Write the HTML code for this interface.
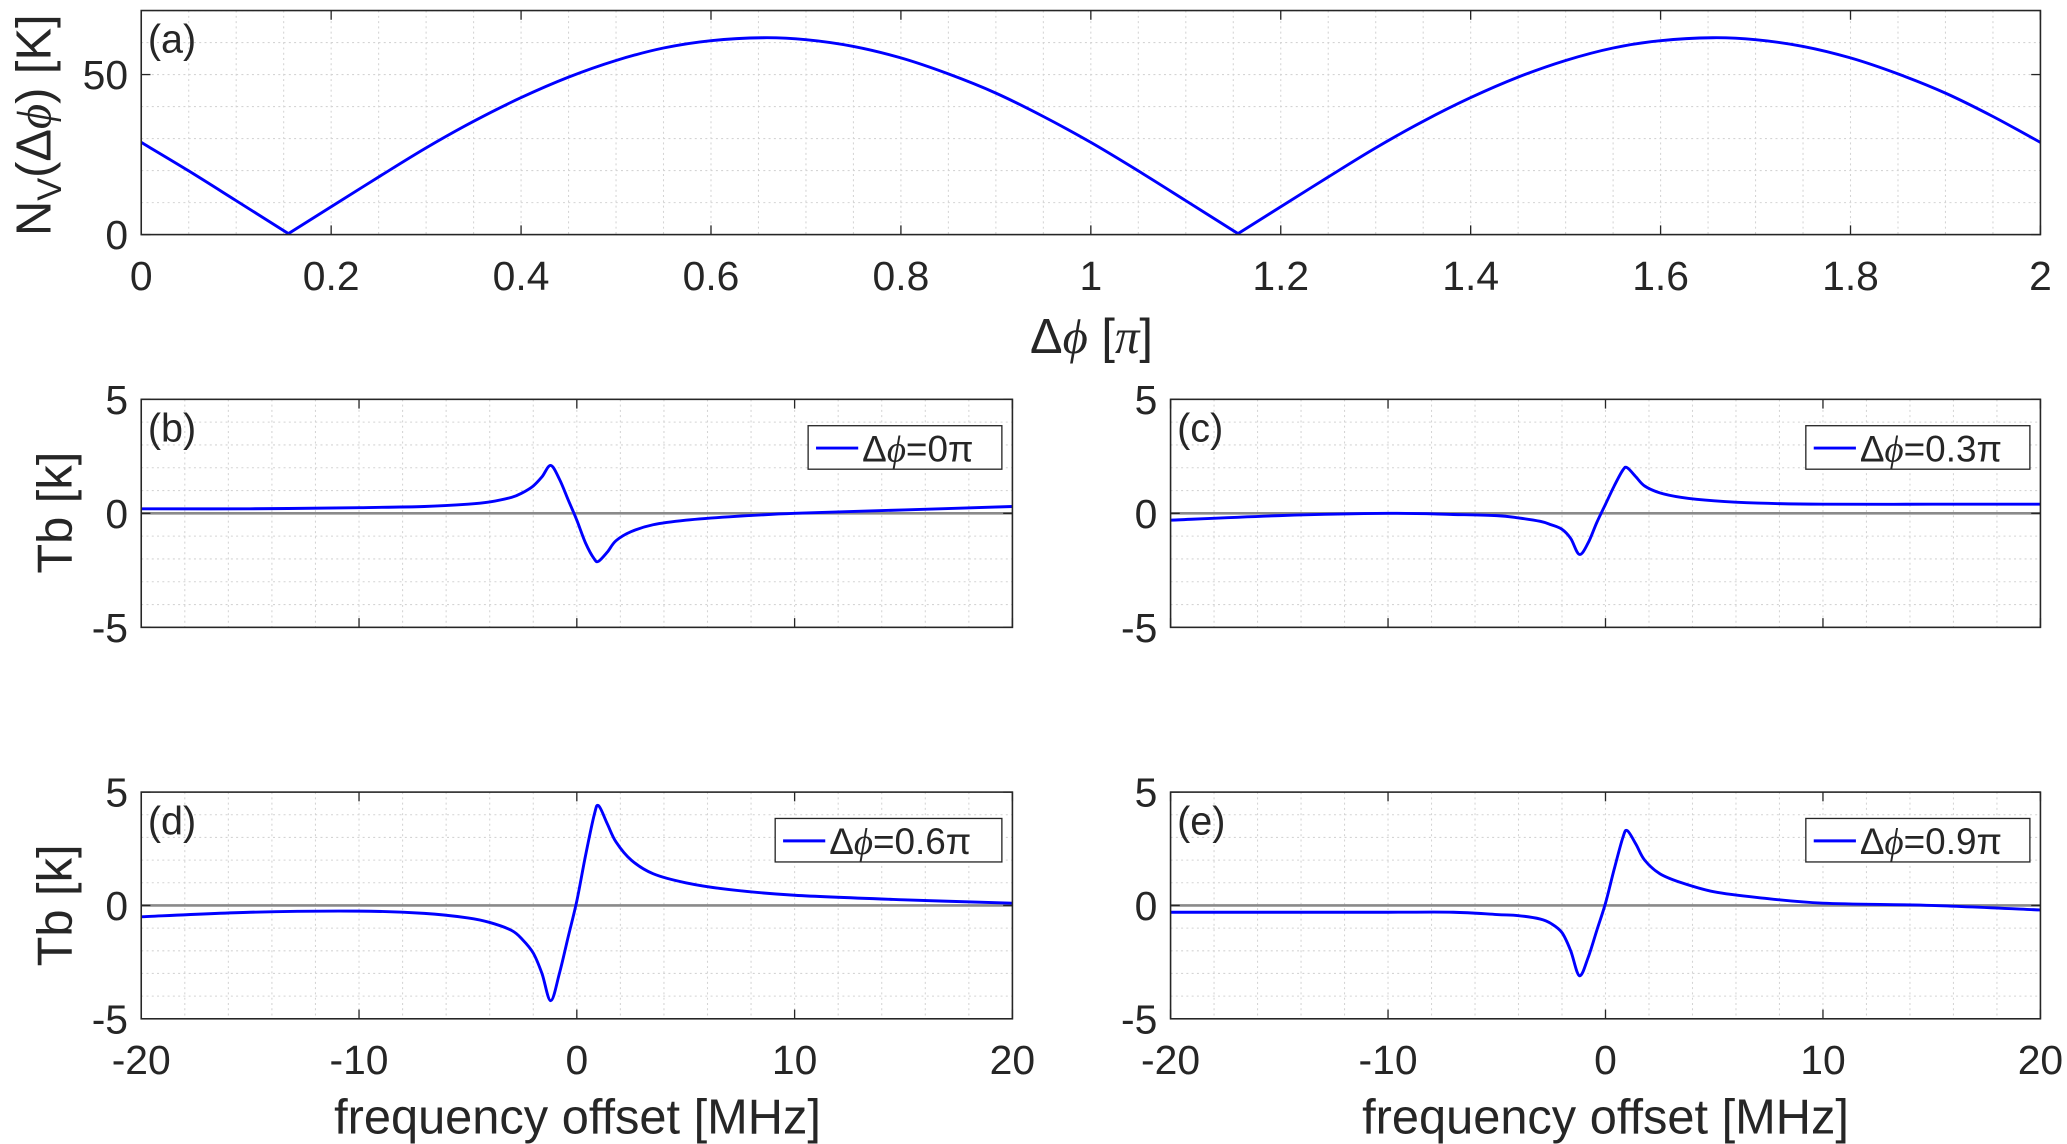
<!DOCTYPE html>
<html><head><meta charset="utf-8"><style>
html,body{margin:0;padding:0;background:#fff}
svg{display:block}
text{font-family:"Liberation Sans",sans-serif;fill:#262626}
</style></head><body>
<svg id="fig" width="2067" height="1144" viewBox="0 0 1568 868" xmlns="http://www.w3.org/2000/svg"></svg>
<script>
// Panel (a) data
const phiX = [0,0.05,0.1,0.155,0.2,0.25,0.3,0.35,0.4,0.45,0.5,0.55,0.6,0.655,0.7,0.75,0.8,0.85,0.9,0.95,1.0,1.05,1.1,1.155,1.2,1.25,1.3,1.35,1.4,1.45,1.5,1.55,1.6,1.655,1.7,1.75,1.8,1.85,1.9,1.95,2.0];
const nvY  = [28.8,19.9,10.6,0.3,8.7,18.0,27.1,35.4,42.8,49.2,54.4,58.3,60.6,61.5,60.9,58.8,55.2,50.2,44.2,36.9,28.8,19.9,10.6,0.3,8.7,18.0,27.1,35.4,42.8,49.2,54.4,58.3,60.6,61.5,60.9,58.8,55.2,50.2,44.2,36.9,28.8];
const phiTicks = ["0","0.2","0.4","0.6","0.8","1","1.2","1.4","1.6","1.8","2"];
// Panels (b)-(e) data
const freqX = [-20,-15,-10,-7,-5,-4,-3,-2.5,-2,-1.6,-1.2,-0.8,-0.4,0,0.4,0.8,1.0,1.4,1.8,2.5,3.5,5,7,10,15,20];
const tbB = [0.2,0.2,0.25,0.3,0.4,0.5,0.7,0.9,1.2,1.6,2.1,1.5,0.6,-0.3,-1.3,-2.0,-2.1,-1.7,-1.2,-0.8,-0.5,-0.3,-0.15,0,0.15,0.3];
const tbC = [-0.3,-0.1,0,-0.05,-0.1,-0.2,-0.35,-0.5,-0.7,-1.1,-1.8,-1.3,-0.4,0.4,1.2,1.9,2.0,1.6,1.2,0.9,0.7,0.55,0.45,0.4,0.4,0.4];
const tbD = [-0.5,-0.3,-0.25,-0.35,-0.55,-0.75,-1.1,-1.5,-2.1,-3.0,-4.2,-3.0,-1.4,0.2,2.2,4.0,4.4,3.6,2.8,2.0,1.4,1.0,0.7,0.45,0.25,0.1];
const tbE = [-0.3,-0.3,-0.3,-0.3,-0.4,-0.45,-0.6,-0.8,-1.2,-2.0,-3.1,-2.3,-1.1,0.1,1.6,3.0,3.3,2.7,2.0,1.4,1.0,0.6,0.35,0.1,0,-0.2];
const freqTicks = ["-20","-10","0","10","20"];
const tbTicks = ["-5","0","5"];

const NS="http://www.w3.org/2000/svg";
const svg=document.getElementById('fig');
function el(tag,attrs,parent){const e=document.createElementNS(NS,tag);for(const k in attrs)e.setAttribute(k,attrs[k]);(parent||svg).appendChild(e);return e;}
function smooth(pts){let d=`M${pts[0][0]},${pts[0][1]}`;for(let i=0;i<pts.length-1;i++){const p0=pts[Math.max(i-1,0)],p1=pts[i],p2=pts[i+1],p3=pts[Math.min(i+2,pts.length-1)];const c1=[p1[0]+(p2[0]-p0[0])/6,p1[1]+(p2[1]-p0[1])/6],c2=[p2[0]-(p3[0]-p1[0])/6,p2[1]-(p3[1]-p1[1])/6];d+=` C${c1[0]},${c1[1]} ${c2[0]},${c2[1]} ${p2[0]},${p2[1]}`;}return d;}
function smoothSplit(pts,ys){// split at V-shaped minima
  let d='',seg=[pts[0]];
  for(let i=1;i<pts.length;i++){seg.push(pts[i]);
    if(i<pts.length-1&&ys[i]<ys[i-1]&&ys[i]<ys[i+1]&&ys[i]<2){d+=smooth(seg);seg=[pts[i]];}}
  if(seg.length>1)d+=smooth(seg);return d;}

const TF=31;
function axes(o){
  const g=el('g',{});
  
  
  const sx=v=>o.x0+(v-o.xmin)/(o.xmax-o.xmin)*(o.x1-o.x0);
  const sy=v=>o.y1-(v-o.ymin)/(o.ymax-o.ymin)*(o.y1-o.y0);
  for(let v=o.xmin;v<=o.xmax+1e-9;v+=o.xminor){el('line',{x1:sx(v),x2:sx(v),y1:o.y0,y2:o.y1,stroke:'#d4d4d4','stroke-width':0.8,'stroke-dasharray':'1.5 2.5'},g);}
  for(let v=o.ymin;v<=o.ymax+1e-9;v+=o.yminor){el('line',{x1:o.x0,x2:o.x1,y1:sy(v),y2:sy(v),stroke:'#d4d4d4','stroke-width':0.8,'stroke-dasharray':'1.5 2.5'},g);}
  if(o.zero){const z=el('line',{x1:o.x0,x2:o.x1,y1:sy(0),y2:sy(0),stroke:'#8a8a8a','stroke-width':2},g);}
  o.xticks.forEach(t=>{const v=parseFloat(t),x=sx(v);el('line',{x1:x,x2:x,y1:o.y1,y2:o.y1-7,stroke:'#262626','stroke-width':1},g);el('line',{x1:x,x2:x,y1:o.y0,y2:o.y0+7,stroke:'#262626','stroke-width':1},g);
    if(o.xlabels){const t2=el('text',{x:x,y:o.y1+42,'font-size':TF,'text-anchor':'middle'},g);t2.textContent=t;}});
  o.yticks.forEach(t=>{const v=parseFloat(t),y=sy(v);el('line',{x1:o.x0,x2:o.x0+7,y1:y,y2:y,stroke:'#262626','stroke-width':1},g);el('line',{x1:o.x1,x2:o.x1-7,y1:y,y2:y,stroke:'#262626','stroke-width':1},g);
    const t2=el('text',{x:o.x0-10,y:y+11,'font-size':TF,'text-anchor':'end'},g);t2.textContent=t;});
  const pts=o.xs.map((x,i)=>[sx(x),sy(o.ys[i])]);
  const p=el('path',{d:o.split?smoothSplit(pts,o.ys):smooth(pts),fill:'none',stroke:'#0000ff','stroke-width':2.2,'stroke-linejoin':'round'},g);
  
  el('rect',{x:o.x0,y:o.y0,width:o.x1-o.x0,height:o.y1-o.y0,fill:'none',stroke:'#262626','stroke-width':1.2},g);
  const pl=el('text',{x:o.x0+5,y:o.y0+32,'font-size':30},g);pl.textContent=o.label;
  if(o.legend){const lg=el('g',{},g);
    const lw=o.legendW;const lx=o.x1-8-lw, ly=o.y0+20;
    el('rect',{x:lx,y:ly,width:lw,height:33,fill:'#fff',stroke:'#262626','stroke-width':1},lg);
    el('line',{x1:lx+6,x2:lx+38,y1:ly+17,y2:ly+17,stroke:'#0000ff','stroke-width':2.2},lg);
    const lt=el('text',{x:lx+41,y:ly+27,'font-size':28},lg);lt.innerHTML='Δ<tspan font-family="Liberation Serif" font-style="italic">ϕ</tspan>='+o.legend+'π';
    }
  return g;
}

axes({name:'panel-a',x0:107,x1:1548,y0:8,y1:178,xmin:0,xmax:2,ymin:0,ymax:70,xminor:0.05,yminor:10,xticks:phiTicks,yticks:["0","50"],xlabels:true,xs:phiX,ys:nvY,split:true,label:'(a)'});
const L={x0:107,x1:768},R={x0:888,x1:1548};
const top1={y0:303,y1:476}, top2={y0:601,y1:773};
const common={xmin:-20,xmax:20,ymin:-5,ymax:5,xminor:2,yminor:1,xticks:freqTicks,yticks:tbTicks,xs:freqX,zero:true};
axes(Object.assign({},common,L,top1,{name:'panel-b',ys:tbB,label:'(b)',legend:'0',legendW:147,xlabels:false}));
axes(Object.assign({},common,R,top1,{name:'panel-c',ys:tbC,label:'(c)',legend:'0.3',legendW:170,xlabels:false}));
axes(Object.assign({},common,L,top2,{name:'panel-d',ys:tbD,label:'(d)',legend:'0.6',legendW:172,xlabels:true}));
axes(Object.assign({},common,R,top2,{name:'panel-e',ys:tbE,label:'(e)',legend:'0.9',legendW:170,xlabels:true}));

function label(txt,x,y,rot,name,fs){const t=el('text',{x:x,y:y,'font-size':fs||37,'text-anchor':'middle'});if(rot)t.setAttribute('transform',`rotate(-90 ${x} ${y})`);t.innerHTML=txt;}
label('Δ<tspan font-family="Liberation Serif" font-style="italic">ϕ</tspan> [<tspan font-family="Liberation Serif" font-style="italic">π</tspan>]',828,268,false,'x-axis-title-a');
label('N<tspan font-size="26" dy="8">V</tspan><tspan dy="-8">(Δ</tspan><tspan font-family="Liberation Serif" font-style="italic">ϕ</tspan>) [K]',38,95,true,'y-axis-title-a');
label('Tb [k]',54,389,true,'y-axis-title-b');
label('Tb [k]',54,687,true,'y-axis-title-d');
label('frequency offset [MHz]',438,860,false,'x-axis-title-d');
label('frequency offset [MHz]',1218,860,false,'x-axis-title-e');
</script>
</body></html>
